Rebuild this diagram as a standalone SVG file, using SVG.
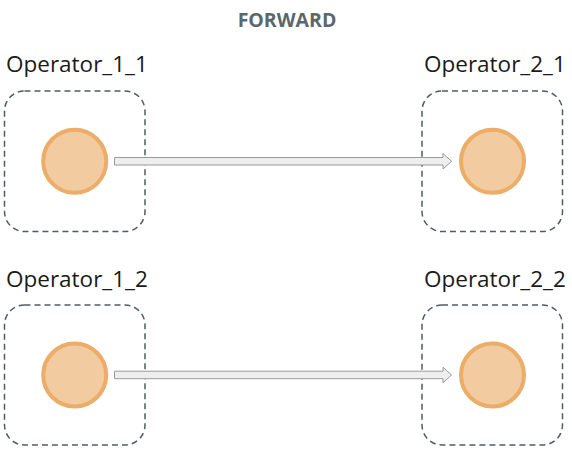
<svg xmlns="http://www.w3.org/2000/svg" width="572" height="452" viewBox="0 0 572 452">
<style>
.title{font-family:"Open Sans","Liberation Sans",sans-serif;font-weight:bold;font-size:19.5px;fill:#5b676b}
.lbl{font-family:"Open Sans","Liberation Sans",sans-serif;font-size:22.5px;fill:#1a1a1a}
.box{fill:none;stroke:#505c60;stroke-width:1.5;stroke-dasharray:6 4}
.op{fill:#f2cba0;stroke:#ebad67;stroke-width:4}
.arr{fill:#eeeeee;stroke:#9a9a9a;stroke-width:1}
</style>
<rect width="572" height="452" fill="#ffffff"/>
<text class="title" x="287" y="27" text-anchor="middle">FORWARD</text>
<g id="op_1_1">
<text class="lbl" x="6" y="72">Operator_1_1</text>
<rect class="box" x="4.5" y="91" width="140.5" height="140.5" rx="20"/>
<circle class="op" cx="74.7" cy="161.3" r="31.5"/>
</g>
<g id="op_2_1">
<text class="lbl" x="424" y="72">Operator_2_1</text>
<rect class="box" x="422" y="91" width="140.5" height="140.5" rx="20"/>
<circle class="op" cx="492.5" cy="161.3" r="31.5"/>
</g>
<g id="op_1_2">
<text class="lbl" x="6" y="287">Operator_1_2</text>
<rect class="box" x="4.5" y="305" width="140.5" height="140" rx="20"/>
<circle class="op" cx="74.7" cy="375" r="31.5"/>
</g>
<g id="op_2_2">
<text class="lbl" x="424" y="287">Operator_2_2</text>
<rect class="box" x="422" y="305" width="140.5" height="140" rx="20"/>
<circle class="op" cx="492.5" cy="375" r="31.5"/>
</g>
<g id="connectors">
<path class="arr" d="M114.5,157.5 H443 V153.5 L451.5,161.3 L443,169 V165 H114.5 Z"/>
<path class="arr" d="M114.5,371.2 H443 V367.2 L451.5,375 L443,382.7 V378.7 H114.5 Z"/>
</g>
</svg>
